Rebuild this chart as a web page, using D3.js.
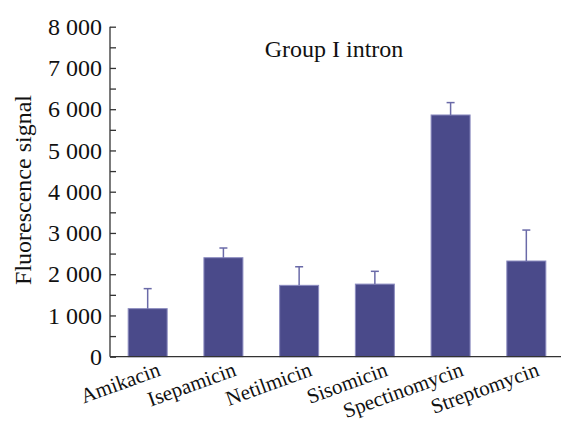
<!DOCTYPE html>
<html><head><meta charset="utf-8">
<script src="https://cdn.jsdelivr.net/npm/d3@7"></script>
<style>
body{margin:0;background:#fff;}
svg text{font-family:"Liberation Serif","Times New Roman",serif !important;fill:#111;}
</style></head>
<body><svg id="c" width="561" height="425"></svg>
<script>
const categories = ["Amikacin","Isepamicin","Netilmicin","Sisomicin","Spectinomycin","Streptomycin"];
const values = [1165, 2400, 1730, 1760, 5860, 2320];
const errors = [485, 235, 450, 310, 300, 750];
const yTicks = [0,1000,2000,3000,4000,5000,6000,7000,8000];
const title = "Group I intron";
const yLabel = "Fluorescence signal";

const svg = d3.select("#c");
const x0 = 110, xEnd = 564, yTop = 26.7, yBot = 356.7;
const x = d3.scaleBand().domain(categories).range([x0, xEnd]).paddingInner(0.485).paddingOuter(0.24);
const y = d3.scaleLinear().domain([0, 8000]).range([yBot, yTop]);
const fmt = v => d3.format(",")(v).replace(/,/g, " ");

// bars
svg.selectAll("rect.bar").data(categories).enter().append("rect")
  .attr("x", d => x(d)).attr("width", x.bandwidth())
  .attr("y", (d,i) => y(values[i])).attr("height", (d,i) => yBot - y(values[i]))
  .attr("fill", "#4a4a8a").attr("stroke", "#8c8cc0").attr("stroke-width", 1);

// error bars
const eb = svg.selectAll("g.err").data(categories).enter().append("g");
eb.append("line")
  .attr("x1", d => x(d) + x.bandwidth()/2).attr("x2", d => x(d) + x.bandwidth()/2)
  .attr("y1", (d,i) => y(values[i])).attr("y2", (d,i) => y(values[i] + errors[i]))
  .attr("stroke", "#6a6aa8").attr("stroke-width", 1.5);
eb.append("line")
  .attr("x1", d => x(d) + x.bandwidth()/2 - 4).attr("x2", d => x(d) + x.bandwidth()/2 + 4)
  .attr("y1", (d,i) => y(values[i] + errors[i])).attr("y2", (d,i) => y(values[i] + errors[i]))
  .attr("stroke", "#6a6aa8").attr("stroke-width", 1.5);

// y axis
const yAxis = d3.axisLeft(y).tickValues(d3.range(0, 8001, 500)).tickSize(-6).tickPadding(8)
  .tickFormat(v => yTicks.includes(v) ? fmt(v) : "");
const ga = svg.append("g").attr("transform", `translate(${x0},0)`).call(yAxis);
ga.attr("font-family", null);
ga.select(".domain").attr("stroke", "#333").attr("stroke-width", 1.3).attr("d", `M0,${yBot}V${yTop}`);
ga.selectAll(".tick line").attr("stroke", "#333").attr("stroke-width", 1.3);
ga.selectAll(".tick text").attr("font-size", 24).attr("fill", "#111").attr("x", -8);

// x axis
const xAxis = d3.axisBottom(x).tickSize(0).tickPadding(0);
const gx = svg.append("g").attr("transform", `translate(0,${yBot})`).call(xAxis);
gx.attr("font-family", null);
gx.select(".domain").attr("stroke", "#333").attr("stroke-width", 1.3).attr("d", `M${x0},0H561`);
gx.selectAll(".tick text").attr("font-size", 21).attr("fill", "#111")
  .attr("text-anchor", "end").attr("dy", 0).attr("y", 0)
  .attr("transform", "translate(14,18.5) rotate(-20)");

// title
svg.append("text").attr("x", 334).attr("y", 57).attr("text-anchor", "middle").attr("font-size", 24).text(title);

// y label
svg.append("text").attr("transform", "translate(31,190) rotate(-90)").attr("text-anchor", "middle")
  .attr("font-size", 24).text(yLabel);
</script></body></html>
